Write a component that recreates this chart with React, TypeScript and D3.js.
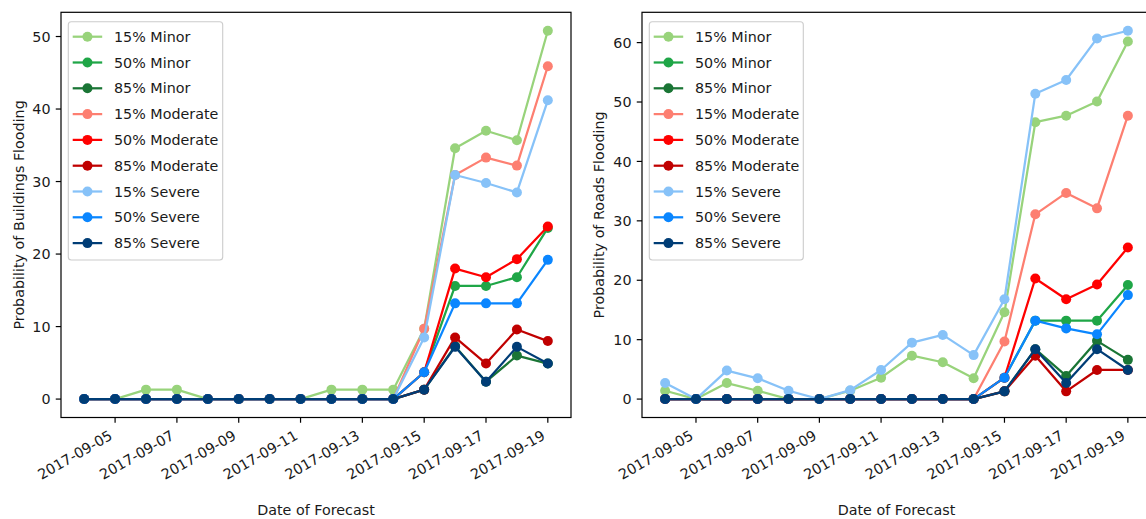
import React from "react";
import * as d3 from "d3";

// Forecast issue dates (one point per day)
const dates = [
  "2017-09-04", "2017-09-05", "2017-09-06", "2017-09-07", "2017-09-08", "2017-09-09",
  "2017-09-10", "2017-09-11", "2017-09-12", "2017-09-13", "2017-09-14", "2017-09-15",
  "2017-09-16", "2017-09-17", "2017-09-18", "2017-09-19",
];

const seriesNames = [
  "15% Minor", "50% Minor", "85% Minor",
  "15% Moderate", "50% Moderate", "85% Moderate",
  "15% Severe", "50% Severe", "85% Severe",
];

const seriesColors = [
  "#98d37b", "#1fa647", "#1a7535",
  "#fd7f71", "#ff0000", "#c00000",
  "#87c2f8", "#0a86ff", "#003d76",
];

// Probability of buildings flooding (%)
const bMinor15 = [0, 0, 1.3, 1.3, 0, 0, 0, 0, 1.3, 1.3, 1.3, 9.7, 34.6, 37.0, 35.7, 50.8];
const bMinor50 = [0, 0, 0, 0, 0, 0, 0, 0, 0, 0, 0, 3.7, 15.6, 15.6, 16.8, 23.6];
const bMinor85 = [0, 0, 0, 0, 0, 0, 0, 0, 0, 0, 0, 1.3, 7.3, 2.4, 6.0, 4.9];
const bMod15 = [0, 0, 0, 0, 0, 0, 0, 0, 0, 0, 0, 9.7, 30.9, 33.3, 32.2, 45.9];
const bMod50 = [0, 0, 0, 0, 0, 0, 0, 0, 0, 0, 0, 3.7, 18.0, 16.8, 19.3, 23.8];
const bMod85 = [0, 0, 0, 0, 0, 0, 0, 0, 0, 0, 0, 1.3, 8.5, 4.9, 9.6, 8.0];
const bSev15 = [0, 0, 0, 0, 0, 0, 0, 0, 0, 0, 0, 8.5, 30.9, 29.8, 28.5, 41.2];
const bSev50 = [0, 0, 0, 0, 0, 0, 0, 0, 0, 0, 0, 3.7, 13.2, 13.2, 13.2, 19.2];
const bSev85 = [0, 0, 0, 0, 0, 0, 0, 0, 0, 0, 0, 1.3, 7.2, 2.4, 7.2, 4.9];

// Probability of roads flooding (%)
const rMinor15 = [1.4, 0, 2.7, 1.4, 0, 0, 1.4, 3.6, 7.3, 6.2, 3.5, 14.6, 46.6, 47.7, 50.1, 60.2];
const rMinor50 = [0, 0, 0, 0, 0, 0, 0, 0, 0, 0, 0, 3.6, 13.2, 13.2, 13.2, 19.2];
const rMinor85 = [0, 0, 0, 0, 0, 0, 0, 0, 0, 0, 0, 1.3, 8.4, 3.9, 9.8, 6.6];
const rMod15 = [0, 0, 0, 0, 0, 0, 0, 0, 0, 0, 0, 9.7, 31.1, 34.7, 32.1, 47.7];
const rMod50 = [0, 0, 0, 0, 0, 0, 0, 0, 0, 0, 0, 3.6, 20.3, 16.8, 19.3, 25.5];
const rMod85 = [0, 0, 0, 0, 0, 0, 0, 0, 0, 0, 0, 1.3, 7.3, 1.3, 4.9, 4.9];
const rSev15 = [2.7, 0, 4.8, 3.5, 1.4, 0, 1.5, 4.9, 9.5, 10.8, 7.4, 16.8, 51.4, 53.7, 60.7, 62.0];
const rSev50 = [0, 0, 0, 0, 0, 0, 0, 0, 0, 0, 0, 3.6, 13.2, 11.9, 10.9, 17.5];
const rSev85 = [0, 0, 0, 0, 0, 0, 0, 0, 0, 0, 0, 1.3, 8.4, 2.7, 8.4, 4.9];

const buildingSeries = [bMinor15, bMinor50, bMinor85, bMod15, bMod50, bMod85, bSev15, bSev50, bSev85];
const roadSeries = [rMinor15, rMinor50, rMinor85, rMod15, rMod50, rMod85, rSev15, rSev50, rSev85];

const xTickDates = ["2017-09-05", "2017-09-07", "2017-09-09", "2017-09-11", "2017-09-13", "2017-09-15", "2017-09-17", "2017-09-19"];
const buildingYTicks = [0, 10, 20, 30, 40, 50];
const roadYTicks = [0, 10, 20, 30, 40, 50, 60];

const FONT = "'DejaVu Sans', sans-serif";
const FS = 14.3;
const MARKER_R = 5;
const parse = d3.utcParse("%Y-%m-%d");

type PanelProps = {
  left: number;
  right: number;
  top: number;
  bottom: number;
  series: number[][];
  yTicks: number[];
  yLabel: string;
  yLabelX: number;
  legendX: number;
  legendW: number;
};

function Panel({ left, right, top, bottom, series, yTicks, yLabel, yLabelX, legendX, legendW }: PanelProps) {
  const parsed = dates.map((d) => parse(d) as Date);
  const [t0, t1] = d3.extent(parsed) as [Date, Date];
  const span = t1.getTime() - t0.getTime();
  const x = d3
    .scaleUtc()
    .domain([new Date(t0.getTime() - span * 0.05), new Date(t1.getTime() + span * 0.05)])
    .range([left, right]);
  const maxV = d3.max(series, (s) => d3.max(s)) as number;
  const y = d3
    .scaleLinear()
    .domain([-maxV * 0.05, maxV * 1.05])
    .range([bottom, top]);

  const line = d3
    .line<number>()
    .x((_, i) => x(parsed[i]))
    .y((v) => y(v));

  const tickLen = 5.25;
  const cx = (left + right) / 2;
  const cy = (top + bottom) / 2;
  const rowH = 25.8;
  const legTop = 21.7;
  const row0 = 36.7;

  return (
    <g>
      {/* data lines and markers */}
      <g>
        {series.map((s, k) => (
          <g key={k}>
            <path d={line(s) || ""} fill="none" stroke={seriesColors[k]} strokeWidth={2.25} strokeLinejoin="round" />
            {s.map((v, i) => (
              <circle key={i} cx={x(parsed[i])} cy={y(v)} r={MARKER_R} fill={seriesColors[k]} />
            ))}
          </g>
        ))}
      </g>
      {/* frame */}
      <rect x={left} y={top} width={right - left} height={bottom - top} fill="none" stroke="#000" strokeWidth={1.2} />
      {/* y axis */}
      {yTicks.map((t) => (
        <g key={t}>
          <line x1={left - tickLen} x2={left} y1={y(t)} y2={y(t)} stroke="#000" strokeWidth={1.2} />
          <text x={left - 10.5} y={y(t)} dy="0.36em" textAnchor="end" fontFamily={FONT} fontSize={FS} fill="#1a1a1a">
            {t}
          </text>
        </g>
      ))}
      {/* x axis */}
      {xTickDates.map((d) => {
        const tx = x(parse(d) as Date);
        return (
          <g key={d}>
            <line x1={tx} x2={tx} y1={bottom} y2={bottom + tickLen} stroke="#000" strokeWidth={1.2} />
            <text
              transform={`translate(${tx - 1.7},${bottom + 21})`+" rotate(-30)"}
              textAnchor="end"
              fontFamily={FONT}
              fontSize={FS}
              fill="#1a1a1a"
            >
              {d}
            </text>
          </g>
        );
      })}
      <text x={cx} y={515} textAnchor="middle" fontFamily={FONT} fontSize={FS} fill="#1a1a1a">
        Date of Forecast
      </text>
      <text
        transform={`translate(${yLabelX},${cy}) rotate(-90)`}
        textAnchor="middle"
        fontFamily={FONT}
        fontSize={FS}
        fill="#1a1a1a"
      >
        {yLabel}
      </text>
      {/* legend */}
      <rect
        x={legendX}
        y={legTop}
        width={legendW}
        height={260 - legTop}
        rx={3}
        fill="#fff"
        fillOpacity={0.8}
        stroke="#cccccc"
        strokeWidth={1.1}
      />
      {seriesNames.map((name, k) => {
        const ry = row0 + k * rowH;
        const hx0 = legendX + 4.4;
        const hx1 = hx0 + 29.5;
        return (
          <g key={name}>
            <line x1={hx0} x2={hx1} y1={ry} y2={ry} stroke={seriesColors[k]} strokeWidth={2.25} />
            <circle cx={(hx0 + hx1) / 2} cy={ry} r={MARKER_R} fill={seriesColors[k]} />
            <text x={hx1 + 11.8} y={ry} dy="0.36em" fontFamily={FONT} fontSize={FS} fill="#1a1a1a">
              {name}
            </text>
          </g>
        );
      })}
    </g>
  );
}

export default function App() {
  return (
    <svg
      width={1146}
      height={519}
      style={{ position: "absolute", left: 0, top: 0, background: "#fff" }}
    >
      <rect x={0} y={0} width={1146} height={519} fill="#fff" />
      <Panel
        left={61}
        right={571}
        top={12.3}
        bottom={417.5}
        series={buildingSeries}
        yTicks={buildingYTicks}
        yLabel="Probability of Buildings Flooding"
        yLabelX={23.5}
        legendX={68.3}
        legendW={154.4}
      />
      <Panel
        left={642}
        right={1151}
        top={12.3}
        bottom={417.5}
        series={roadSeries}
        yTicks={roadYTicks}
        yLabel="Probability of Roads Flooding"
        yLabelX={604}
        legendX={649.3}
        legendW={154}
      />
    </svg>
  );
}
